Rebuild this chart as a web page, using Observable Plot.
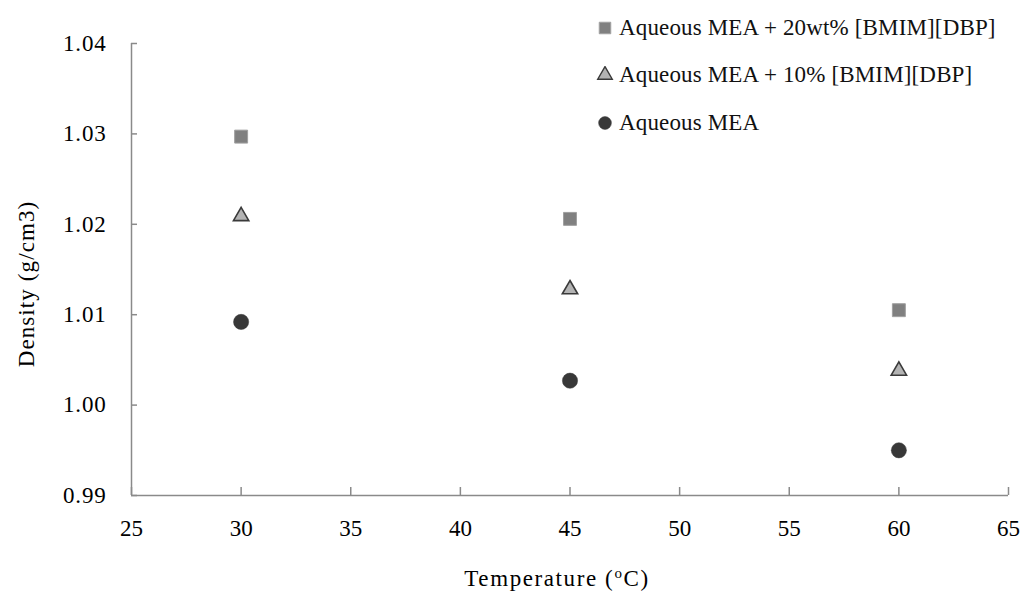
<!DOCTYPE html>
<html><head><meta charset="utf-8">
<script src="https://cdn.jsdelivr.net/npm/d3@7"></script>
<script src="https://cdn.jsdelivr.net/npm/@observablehq/plot@0.6"></script>
<style>
body{margin:0;background:#fff;}
#wrap{position:relative;width:1022px;height:595px;}
#wrap svg text{font-family:"Liberation Serif",serif !important;}
#legend{position:absolute;left:596px;top:4px;font-size:23px;color:#111;letter-spacing:0.15px;}
#legend span{font-family:"Liberation Serif",serif !important;}
.row{display:flex;align-items:center;height:47.5px;white-space:nowrap;}
.row svg{margin-right:5px;}
</style></head><body><div id="wrap"><div id="legend"></div></div>
<script>
const temperature = [30, 45, 60];
const mea20 = [1.0297, 1.0206, 1.0105];
const mea10 = [1.0209, 1.0128, 1.0038];
const meaOnly = [1.0092, 1.0027, 0.9950];
const xTicks = [25, 30, 35, 40, 45, 50, 55, 60, 65];
const yTicks = [0.99, 1.00, 1.01, 1.02, 1.03, 1.04];
const seriesNames = ["Aqueous MEA + 20wt% [BMIM][DBP]", "Aqueous MEA + 10% [BMIM][DBP]", "Aqueous MEA"];

const rows = (vals) => temperature.map((t, i) => ({t, v: vals[i]}));
const axisColor = "#8a8a8a";
const font = "Liberation Serif";

const chart = Plot.plot({
  width: 1022, height: 595,
  marginLeft: 131, marginRight: 14, marginTop: 43, marginBottom: 100,
  style: {fontSize: "23px", color: "#000", background: "#fff", overflow: "visible"},
  x: {domain: [25, 65]},
  y: {domain: [0.99, 1.04]},
  marks: [
    Plot.axisY({ticks: yTicks, tickSize: 0, tickPadding: 25, tickFormat: d3.format(".2f"), label: null, fontSize: 23, fill: "#000"}),
    Plot.axisX({ticks: xTicks, tickSize: 0, tickPadding: 24, tickFormat: d3.format("d"), label: null, fontSize: 23, fill: "#000"}),
    Plot.axisY({ticks: yTicks, tickSize: 6, text: null, dx: 6, label: null, stroke: axisColor, strokeWidth: 1.5}),
    Plot.axisX({ticks: xTicks, tickSize: 8, text: null, dy: -8, label: null, stroke: axisColor, strokeWidth: 1.5}),
    Plot.ruleX([25], {stroke: axisColor, strokeWidth: 1.5}),
    Plot.ruleY([0.99], {stroke: axisColor, strokeWidth: 1.5}),
    Plot.dot(rows(mea20), {x: "t", y: "v", symbol: "square", r: 7.3, fill: "#808080", stroke: "#a0a0a0", strokeWidth: 1}),
    Plot.dot(rows(mea10), {x: "t", y: "v", symbol: "triangle", r: 5.7, fill: "#b3b3b3", stroke: "#3a3a3a", strokeWidth: 1.6}),
    Plot.dot(rows(meaOnly), {x: "t", y: "v", symbol: "circle", r: 7.6, fill: "#383838", stroke: "#383838", strokeWidth: 0.5})
  ]
});

const svg = d3.select(chart);
svg.selectAll("g[aria-label='y-axis tick label'] text").attr("letter-spacing", "0.8px");
// axis titles
const xt = svg.append("text").attr("x", 557).attr("y", 586).attr("text-anchor", "middle")
  .attr("font-family", font).attr("font-size", 23).attr("fill", "#000").attr("letter-spacing", "1.6px");
xt.append("tspan").text("Temperature (");
xt.append("tspan").attr("font-size", 15).attr("dy", -8).text("o");
xt.append("tspan").attr("dy", 8).text("C)");
svg.append("text").attr("transform", "translate(34,284) rotate(-90)").attr("text-anchor", "middle")
  .attr("font-family", font).attr("font-size", 23).attr("fill", "#000").attr("letter-spacing", "1.1px").text("Density (g/cm3)");

document.getElementById("wrap").prepend(chart);

// legend
const legend = document.getElementById("legend");
const legSymbols = [
  {sym: d3.symbolSquare, r: 6.5, fill: "#808080", stroke: "#a0a0a0", sw: 1},
  {sym: d3.symbolTriangle, r: 5.4, fill: "#b3b3b3", stroke: "#3a3a3a", sw: 1.4},
  {sym: d3.symbolCircle, r: 6.4, fill: "#383838", stroke: "#383838", sw: 0.5}
];
seriesNames.forEach((name, i) => {
  const row = document.createElement("div");
  row.className = "row";
  const s = legSymbols[i];
  const path = d3.symbol(s.sym, Math.PI * s.r * s.r)();
  row.innerHTML = `<svg width="18" height="18" viewBox="-9 -9 18 18"><path d="${path}" fill="${s.fill}" stroke="${s.stroke}" stroke-width="${s.sw}"/></svg><span>${name}</span>`;
  legend.appendChild(row);
});
</script></body></html>
